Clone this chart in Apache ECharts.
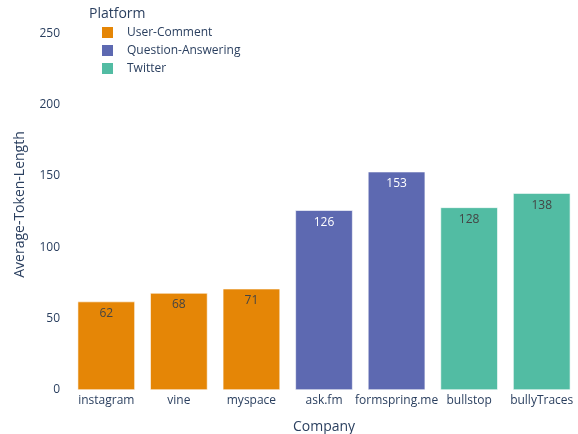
<!DOCTYPE html>
<html><head><meta charset="utf-8">
<script src="https://cdn.jsdelivr.net/npm/echarts@6/dist/echarts.min.js"></script>
<style>html,body{margin:0;padding:0;background:#fff}#c{width:578px;height:434px}</style>
</head><body><div id="c"></div>
<script>
const categories = ['instagram','vine','myspace','ask.fm','formspring.me','bullstop','bullyTraces'];
const platforms = ['User-Comment','Question-Answering','Twitter'];
const userComment = [62, 68, 71, null, null, null, null];
const questionAnswering = [null, null, null, 126, 153, null, null];
const twitter = [null, null, null, null, null, 128, 138];
const yTicks = [0, 50, 100, 150, 200, 250];

const colors = ['#E58606', '#5D69B1', '#52BCA3'];
const labelColors = ['#444', '#fff', '#444'];
const font = '"Open Sans", "Noto Sans", sans-serif';
const axisColor = '#2a3f5f';
const seriesData = [userComment, questionAnswering, twitter];

const chart = echarts.init(document.getElementById('c'), null, {renderer: 'canvas'});
chart.setOption({
  animation: false,
  color: colors,
  title: {text: 'Platform', left: 84, top: 2, textStyle: {fontFamily: font, fontSize: 14, fontWeight: 'normal', color: axisColor}},
  legend: {
    orient: 'vertical', left: 95, top: 20, itemWidth: 13, itemHeight: 13, itemGap: 3,
    icon: 'rect', data: platforms,
    textStyle: {fontFamily: font, fontSize: 12, color: axisColor, padding: [0,0,0,8], lineHeight: 14}
  },
  grid: {left: 70, right: 0, top: 19, bottom: 44, outerBoundsMode: 'none', containLabel: false},
  xAxis: {
    type: 'category', data: categories,
    name: 'Company', nameLocation: 'middle', nameGap: 30,
    nameTextStyle: {fontFamily: font, fontSize: 14, color: axisColor},
    axisLine: {show: false}, axisTick: {show: false},
    axisLabel: {fontFamily: font, fontSize: 12, color: axisColor, margin: 5, interval: 0}
  },
  yAxis: {
    type: 'value', min: 0, max: 260, interval: 50,
    name: 'Average-Token-Length', nameLocation: 'middle', nameGap: 43,
    nameTextStyle: {fontFamily: font, fontSize: 14, color: axisColor},
    splitLine: {show: false}, axisLine: {show: false}, axisTick: {show: false},
    axisLabel: {fontFamily: font, fontSize: 12, color: axisColor, margin: 10,
      formatter: v => yTicks.includes(v) ? String(v) : ''}
  },
  series: platforms.map((p, i) => ({
    name: p, type: 'bar', stack: 'total', barWidth: '79%',
    data: seriesData[i].map(v => v === null ? '-' : v),
    itemStyle: {color: colors[i], borderColor: '#fff', borderWidth: 0.6},
    label: {show: true, position: 'insideTop', distance: 6, fontFamily: font, fontSize: 12, color: labelColors[i]}
  }))
});
</script></body></html>
